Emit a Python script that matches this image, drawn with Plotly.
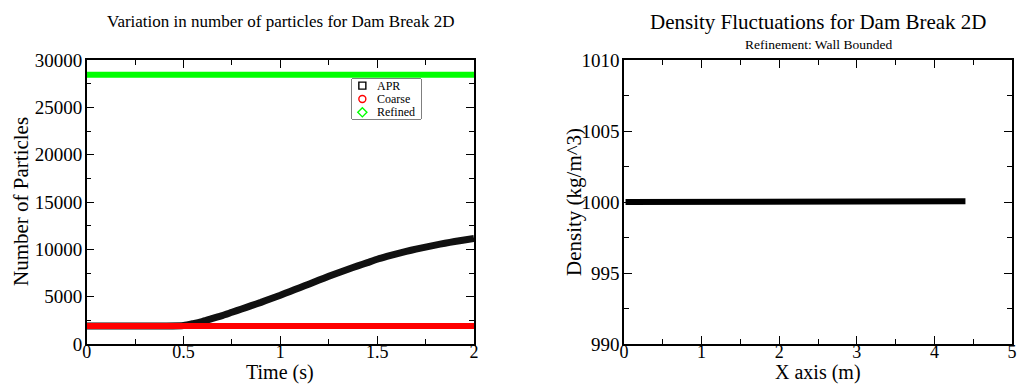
import plotly.graph_objects as go

# ---------------- data ----------------
time_apr = [0.0, 0.1, 0.2, 0.3, 0.4, 0.5, 0.55, 0.6, 0.65, 0.7, 0.75, 0.8, 0.85, 0.9,
            0.95, 1.0, 1.05, 1.1, 1.15, 1.2, 1.25, 1.3, 1.35, 1.4, 1.45, 1.5, 1.55,
            1.6, 1.65, 1.7, 1.75, 1.8, 1.85, 1.9, 1.95, 2.0]
n_apr = [1900, 1900, 1900, 1900, 1900, 1950, 2150, 2400, 2700, 3000, 3350, 3700,
         4050, 4400, 4780, 5150, 5550, 5950, 6350, 6750, 7150, 7530, 7900, 8250,
         8600, 8950, 9250, 9530, 9780, 10020, 10240, 10450, 10640, 10820, 10990, 11150]
time_coarse = [0.0, 0.25, 0.5, 0.75, 1.0, 1.25, 1.5, 1.75, 2.0]
n_coarse = [1900, 1900, 1900, 1900, 1900, 1900, 1900, 1900, 1900]
time_refined = [0.0, 0.25, 0.5, 0.75, 1.0, 1.25, 1.5, 1.75, 2.0]
n_refined = [28450, 28450, 28450, 28450, 28450, 28450, 28450, 28450, 28450]

x_density = [0.02, 0.5, 1.0, 1.5, 2.0, 2.5, 3.0, 3.5, 4.0, 4.2, 4.3, 4.4]
rho = [1000.0, 1000.0, 1000.0, 1000.0, 1000.0, 1000.0, 1000.0, 1000.0, 1000.0,
       1000.05, 1000.08, 1000.05]

series_names = ["APR", "Coarse", "Refined"]
series_symbols = ["square-open", "circle-open", "diamond-open"]
series_colors = ["#000000", "#ff0000", "#00ff00"]

# ---------------- layout helpers ----------------
W, H = 1017, 385
TOP, BOT = 60, 344
FONT = "Liberation Serif, Times New Roman, serif"


def px(x):
    return x / W


def py(y):
    return (BOT - y) / (BOT - TOP)


fig = go.Figure()

fig.add_trace(go.Scatter(x=time_apr, y=n_apr, mode="lines", name=series_names[0],
                         line=dict(color="#111111", width=7, shape="spline", smoothing=0.6),
                         showlegend=False, xaxis="x", yaxis="y"))
fig.add_trace(go.Scatter(x=time_coarse, y=n_coarse, mode="lines", name=series_names[1],
                         line=dict(color="#ff0000", width=6),
                         showlegend=False, xaxis="x", yaxis="y"))
fig.add_trace(go.Scatter(x=time_refined, y=n_refined, mode="lines", name=series_names[2],
                         line=dict(color="#00ff00", width=6),
                         showlegend=False, xaxis="x", yaxis="y"))

# density band
fig.add_trace(go.Scatter(x=x_density, y=rho, mode="lines",
                         line=dict(color="#000000", width=6),
                         showlegend=False, xaxis="x2", yaxis="y2"))

# manual legend: markers on an overlay axis spanning the legend box
LX0, LX1, LY0, LY1 = 352, 421, 79, 119
leg_rows = [0, 1, 2]
fig.add_trace(go.Scatter(x=[0.15] * 3, y=[2.5 - r for r in leg_rows], mode="markers",
                         marker=dict(symbol=series_symbols, size=7, color=series_colors,
                                     line=dict(width=1.4, color=series_colors)),
                         showlegend=False, xaxis="x3", yaxis="y3", hoverinfo="skip"))

axis_common = dict(showline=True, linecolor="black", linewidth=1.5, mirror="allticks",
                   ticks="inside", ticklen=8, tickwidth=1.2, tickcolor="black",
                   showgrid=False, zeroline=False, automargin=False)

fig.update_layout(
    width=W, height=H,
    margin=dict(l=0, r=0, t=TOP, b=H - BOT),
    paper_bgcolor="white", plot_bgcolor="white",
    font=dict(family=FONT, color="black", size=19),
    showlegend=False,
    xaxis=dict(domain=[px(86.7), px(474)], range=[0, 2], dtick=0.5, tick0=0,
               minor=dict(ticks="inside", dtick=0.25, ticklen=5, tickcolor="black"),
               anchor="y", ticklabelstandoff=-9, **axis_common),
    yaxis=dict(domain=[0, 1], range=[0, 30000], dtick=5000, tick0=0, tickformat="d",
               minor=dict(ticks="inside", dtick=2500, ticklen=5, tickcolor="black"),
               anchor="x", ticklabelstandoff=-1, **axis_common),
    xaxis2=dict(domain=[px(624), px(1012)], range=[0, 5], dtick=1, tick0=0,
                minor=dict(ticks="inside", dtick=0.5, ticklen=5, tickcolor="black"),
                anchor="y2", ticklabelstandoff=-9, **axis_common),
    yaxis2=dict(domain=[0, 1], range=[990, 1010], dtick=5, tick0=990,
                minor=dict(ticks="inside", dtick=2.5, ticklen=5, tickcolor="black"),
                anchor="x2", ticklabelstandoff=-1, **axis_common),
    xaxis3=dict(domain=[px(LX0), px(LX1)], range=[0, 1], visible=False, fixedrange=True,
                anchor="y3"),
    yaxis3=dict(domain=[py(LY1), py(LY0)], range=[0, 3], visible=False, fixedrange=True,
                anchor="x3"),
)
fig.update_xaxes(tickfont=dict(family=FONT, size=18, color="black"))
fig.update_yaxes(tickfont=dict(family=FONT, size=19, color="black"))

shapes = [dict(type="rect", xref="paper", yref="paper", x0=px(LX0), x1=px(LX1),
               y0=py(LY1), y1=py(LY0), line=dict(color="black", width=1),
               fillcolor="white", layer="below")]

ann = [
    dict(text="Variation in number of particles for Dam Break 2D", x=px(280), y=py(22), size=17),
    dict(text="Density Fluctuations for Dam Break 2D", x=px(818), y=py(22), size=21),
    dict(text="Refinement: Wall Bounded", x=px(818), y=py(45), size=13.5),
]
annotations = [dict(text=a["text"], x=a["x"], y=a["y"], xref="paper", yref="paper",
                    xanchor="center", yanchor="middle", showarrow=False,
                    font=dict(family=FONT, size=a["size"], color="black")) for a in ann]
for text, xc in [("Time (s)", 280), ("X axis (m)", 818)]:
    annotations.append(dict(text=text, x=px(xc), y=py(385), xref="paper", yref="paper",
                            xanchor="center", yanchor="bottom", showarrow=False, borderpad=0,
                            font=dict(family=FONT, size=20, color="black")))
annotations.append(dict(text="Number of Particles", x=px(21), y=py(202), xref="paper",
                        yref="paper", textangle=-90, showarrow=False, xanchor="center",
                        yanchor="middle", font=dict(family=FONT, size=21, color="black")))
annotations.append(dict(text="Density (kg/m^3)", x=px(574), y=py(202), xref="paper",
                        yref="paper", textangle=-90, showarrow=False, xanchor="center",
                        yanchor="middle", font=dict(family=FONT, size=21, color="black")))
for r, name in zip(leg_rows, series_names):
    annotations.append(dict(text=name, x=0.33, y=2.5 - r, xref="x3", yref="y3",
                            xanchor="left", yanchor="middle", showarrow=False,
                            font=dict(family=FONT, size=12, color="black")))
fig.update_layout(annotations=annotations, shapes=shapes)

fig.write_html("out.html")
